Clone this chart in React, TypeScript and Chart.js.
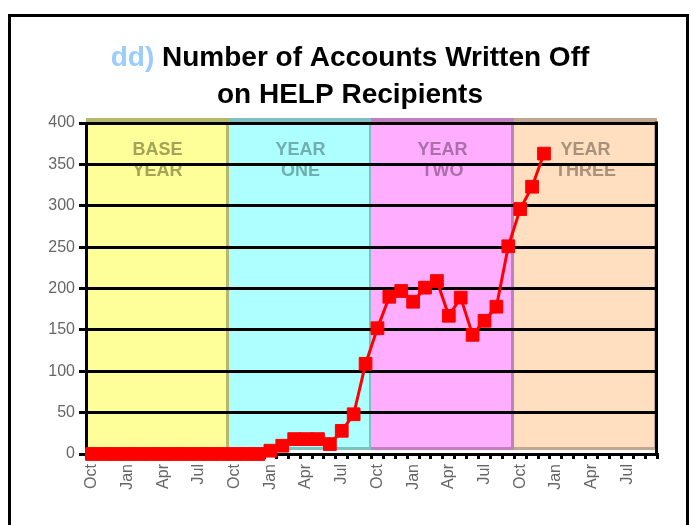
import React, { useEffect, useRef } from 'react';
import { Chart, registerables } from 'chart.js';

Chart.register(...registerables);

const TITLE_PREFIX = 'dd)';
const TITLE_LINE1 = 'Number of Accounts Written Off';
const TITLE_LINE2 = 'on HELP Recipients';

const months = ['Oct', 'Nov', 'Dec', 'Jan', 'Feb', 'Mar', 'Apr', 'May', 'Jun', 'Jul', 'Aug', 'Sep'];
const categories: string[] = [...months, ...months, ...months, ...months];

const writtenOff: (number | null)[] = [
  0, 0, 0, 0, 0, 0, 0, 0, 0, 0, 0, 0,
  0, 0, 0, 4, 10, 18, 18, 18, 12, 28, 48, 109,
  152, 190, 197, 184, 201, 209, 167, 189, 144, 161, 178, 251,
  296, 323, 363, null, null, null, null, null, null, null, null, null,
];

const yearBandLabels = [['BASE', 'YEAR'], ['YEAR', 'ONE'], ['YEAR', 'TWO'], ['YEAR', 'THREE']];
const yearBandStart = [0, 12, 24, 36];
const yearBandEnd = [11, 23, 35, 47];

const bandFill = ['#FFFF99', '#AEFFFF', '#FFAEFF', '#FFDFBF'];
const bandEdge = ['#B8B86C', '#80C0C0', '#C080C0', '#C0A890'];
const bandText = ['#A3A35A', '#6FAFAF', '#AC6FAC', '#A8927C'];

const FONT = '"Liberation Sans", Arial, sans-serif';

const bandsPlugin = {
  id: 'yearBands',
  beforeDraw(chart: any) {
    const { ctx, chartArea: a, scales } = chart;
    const x = scales.x;
    const half = (x.getPixelForValue(1) - x.getPixelForValue(0)) / 2;
    ctx.save();
    yearBandStart.forEach((s, i) => {
      const left = Math.round(x.getPixelForValue(s) - half);
      const right = Math.round(x.getPixelForValue(yearBandEnd[i]) + half);
      const top = a.top - 5;
      const bottom = a.bottom - 4;
      ctx.fillStyle = bandFill[i];
      ctx.fillRect(left, top, right - left, bottom - top);
      ctx.fillStyle = bandEdge[i];
      ctx.fillRect(left, top, right - left, 4);
      ctx.fillRect(left, bottom - 3, right - left, 3);
      ctx.fillRect(right - 3, top, 3, bottom - top);
      ctx.fillStyle = bandText[i];
      ctx.font = 'bold 18px ' + FONT;
      ctx.textAlign = 'center';
      ctx.textBaseline = 'middle';
      const cx = (left + right) / 2;
      ctx.fillText(yearBandLabels[i][0], cx, a.top + 27);
      ctx.fillText(yearBandLabels[i][1], cx, a.top + 48);
    });
    ctx.restore();
  },
  beforeDatasetsDraw(chart: any) {
    const { ctx, chartArea: a } = chart;
    ctx.save();
    ctx.strokeStyle = '#000';
    ctx.lineWidth = 3;
    ctx.beginPath();
    ctx.moveTo(a.right - 0.5, a.top - 1.5);
    ctx.lineTo(a.right - 0.5, a.bottom + 1.5);
    ctx.stroke();
    ctx.restore();
  },
  afterDraw(chart: any) {
    const { ctx } = chart;
    ctx.save();
    ctx.strokeStyle = '#000';
    ctx.lineWidth = 3;
    ctx.strokeRect(9.5, 15.5, 678, 600);
    ctx.font = 'bold 28px ' + FONT;
    ctx.textBaseline = 'middle';
    ctx.textAlign = 'left';
    const pre = TITLE_PREFIX + ' ';
    const wPre = ctx.measureText(pre).width;
    const w1 = ctx.measureText(TITLE_LINE1).width;
    const cx = 350;
    const start = cx - (wPre + w1) / 2;
    ctx.fillStyle = '#99CCFF';
    ctx.fillText(pre, start, 58);
    ctx.fillStyle = '#000';
    ctx.fillText(TITLE_LINE1, start + wPre, 58);
    ctx.textAlign = 'center';
    ctx.fillText(TITLE_LINE2, cx, 95);
    ctx.restore();
  },
};

export default function App() {
  const ref = useRef<HTMLCanvasElement | null>(null);

  useEffect(() => {
    if (!ref.current) return;
    const chart = new Chart(ref.current, {
      type: 'line',
      data: {
        labels: categories,
        datasets: [
          {
            label: 'Accounts Written Off',
            data: writtenOff,
            borderColor: '#FF0000',
            backgroundColor: '#FF0000',
            borderWidth: 3,
            pointStyle: 'rect',
            pointRadius: 9,
            pointBackgroundColor: '#FF0000',
            pointBorderColor: '#FF0000',
            pointBorderWidth: 1,
            tension: 0,
            spanGaps: false,
            clip: false as any,
          },
        ],
      },
      options: {
        responsive: false,
        animation: false,
        layout: { padding: { top: 123, right: 34, left: 0, bottom: 0 } },
        plugins: {
          legend: { display: false },
          tooltip: { enabled: false },
          title: { display: false },
        },
        scales: {
          x: {
            type: 'category',
            offset: true,
            grid: {
              display: true,
              drawOnChartArea: false,
              drawTicks: true,
              tickLength: 5,
              lineWidth: 3,
              color: '#000',
              offset: true,
            },
            border: { display: true, color: '#000', width: 3 },
            ticks: {
              autoSkip: false,
              maxRotation: 90,
              minRotation: 90,
              padding: 5,
              color: '#666',
              font: { family: FONT, size: 16 },
              callback: (_v: any, i: number) => (i % 3 === 0 ? categories[i] : ''),
            },
            afterFit: (s: any) => {
              s.height = 71;
            },
          },
          y: {
            min: 0,
            max: 400,
            ticks: {
              stepSize: 50,
              padding: 4,
              color: '#666',
              font: { family: FONT, size: 16 },
            },
            grid: { color: '#000', lineWidth: 3, tickLength: 7, drawTicks: true },
            border: { display: true, color: '#000', width: 3 },
            afterFit: (s: any) => {
              s.width = 86;
            },
          },
        },
      },
      plugins: [bandsPlugin],
    });
    return () => chart.destroy();
  }, []);

  return (
    <div style={{ position: 'fixed', left: 0, top: 0, width: 691, height: 525, background: '#fff' }}>
      <canvas ref={ref} width={691} height={525} style={{ display: 'block' }} />
    </div>
  );
}
